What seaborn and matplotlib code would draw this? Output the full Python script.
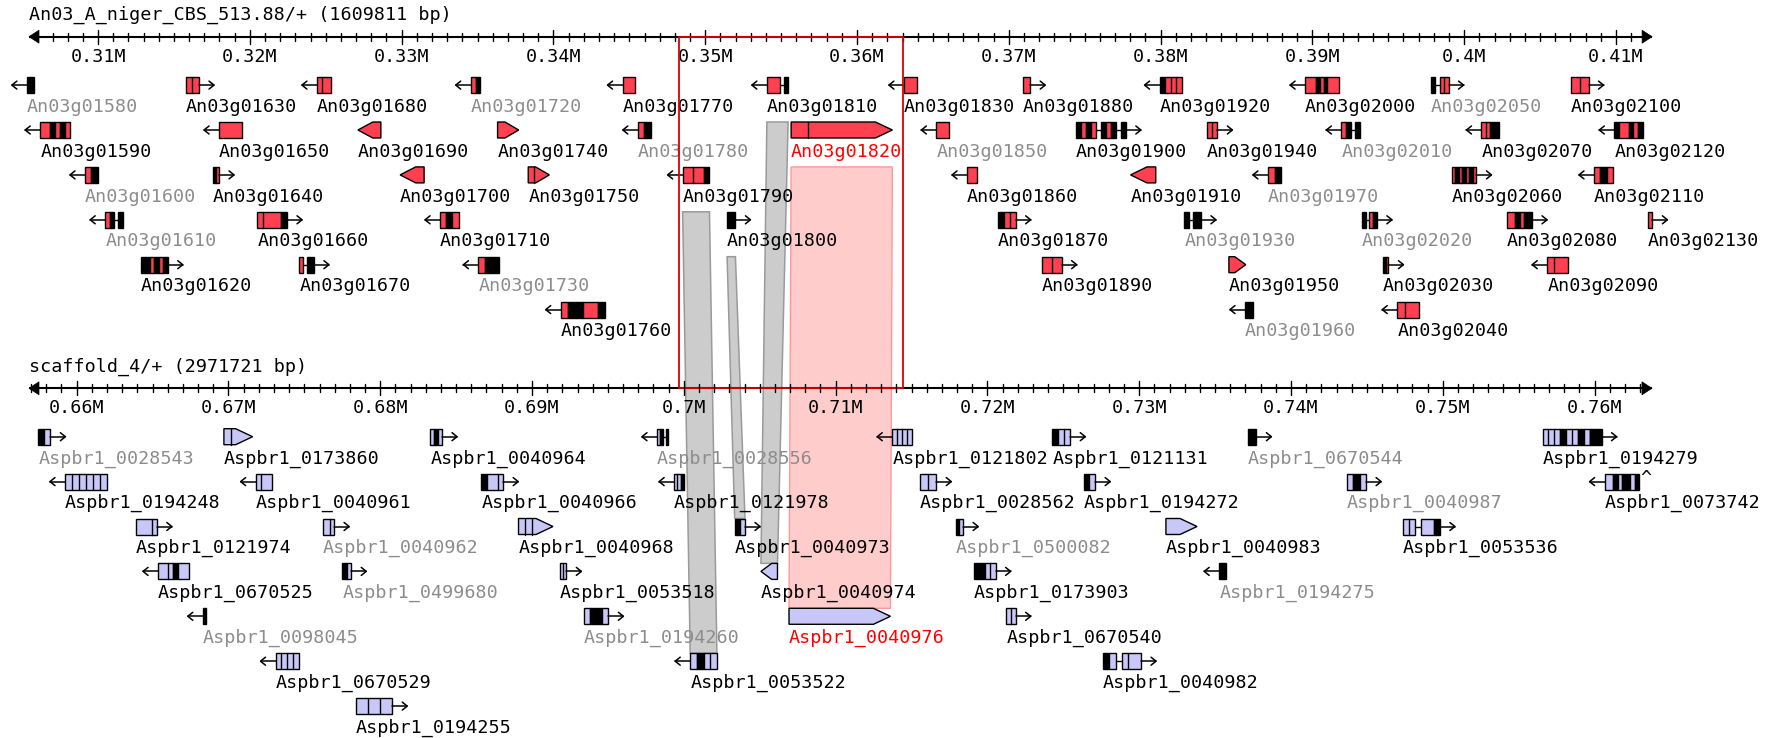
import numpy as np
import matplotlib
matplotlib.use("Agg")
import matplotlib.pyplot as plt
from matplotlib.patches import Polygon, Rectangle
import seaborn as sns

sns.set_theme(style="white")
plt.rcParams["font.family"] = ["DejaVu Sans Mono", "DejaVu Sans"]

# ---------------- data ----------------
top_title = "An03_A_niger_CBS_513.88/+ (1609811 bp)"
top_region = (305450, 412380)
top_names = [
    "An03g01580", "An03g01630", "An03g01680", "An03g01720", "An03g01770", "An03g01810",
    "An03g01830", "An03g01880", "An03g01920", "An03g02000", "An03g02050", "An03g02100",
    "An03g01590", "An03g01650", "An03g01690", "An03g01740", "An03g01780", "An03g01820",
    "An03g01850", "An03g01900", "An03g01940", "An03g02010", "An03g02070", "An03g02120",
    "An03g01600", "An03g01640", "An03g01700", "An03g01750", "An03g01790", "An03g01860",
    "An03g01910", "An03g01970", "An03g02060", "An03g02110",
    "An03g01610", "An03g01660", "An03g01710", "An03g01800", "An03g01870", "An03g01930",
    "An03g02020", "An03g02080", "An03g02130",
    "An03g01620", "An03g01670", "An03g01730", "An03g01890", "An03g01950", "An03g02030",
    "An03g02090",
    "An03g01760", "An03g01960", "An03g02040",
]
top_start = [
    305310, 315770, 324420, 334550, 344550, 354060, 363090, 370910, 379930, 389520, 397790, 407040,
    306190, 317970, 327120, 336320, 345560, 355660, 365230, 374430, 383040, 391910, 401140, 409890,
    309140, 317540, 329900, 338340, 348510, 367250, 378020, 387070, 399170, 408550,
    310470, 320490, 332530, 351440, 369270, 381570, 393250, 402830, 412080,
    312820, 323260, 335060, 372160, 384500, 394640, 405470,
    340480, 385560, 395590,
]
top_end = [
    305760, 316650, 325350, 335190, 345390, 355460, 363970, 371410, 381390, 391730, 398970, 408190,
    308160, 319480, 328630, 337710, 346400, 362330, 366060, 377710, 383740, 393120, 402320, 411780,
    309970, 317970, 331480, 339730, 350280, 367880, 379680, 387950, 400810, 409810,
    311610, 322450, 333750, 351990, 370450, 382660, 394250, 404470, 412400,
    314590, 324220, 336440, 373480, 385610, 395010, 406860,
    343420, 386060, 397030,
]
top_strand = [
    -1, 1, -1, -1, -1, -1, -1, 1, -1, -1, 1, 1,
    -1, -1, -1, 1, -1, 1, -1, 1, 1, -1, -1, -1,
    -1, 1, -1, 1, -1, -1, -1, -1, 1, -1,
    -1, 1, -1, 1, 1, 1, 1, 1, 1,
    1, 1, -1, 1, 1, 1, -1,
    -1, -1, -1,
]
top_row = [0] * 12 + [1] * 12 + [2] * 10 + [3] * 9 + [4] * 7 + [5] * 3
top_exons = [
    "k", "r|r", "r|rr", "rk", "r", "rrr-k", "r", "r", "kr|r|r", "rrrkrkrrr", "k-r|r", "r|r",
    "rrkrkr", "r", "r", "r", "rk", "r|rrrrr", "r", "krkr-krk-k", "r|r", "rk-k", "r|rkk", "krrkrk",
    "rk", "kr", "r", "r|rrr", "rr|rrk", "r", "r", "rk", "rkrkrkr", "rkr",
    "rk-k", "r|rrrk", "rkr", "k", "kr|r", "k-kk", "k-rk", "rrkrkk", "r",
    "kkrkrk", "r-kk", "rkk", "r|r", "r", "kr", "r|rr",
    "rk|krrk", "k", "r|rr",
]
top_shape = [
    "a", "a", "a", "a", "a", "a", "a", "a", "a", "a", "a", "a",
    "a", "a", "p", "p", "a", "p", "a", "a", "a", "a", "a", "a",
    "a", "a", "p", "p", "a", "a", "p", "a", "a", "a",
    "a", "a", "a", "a", "a", "a", "a", "a", "a",
    "a", "a", "a", "a", "p", "a", "a",
    "a", "a", "a",
]
top_label = [
    "g", "k", "k", "g", "k", "k", "k", "k", "k", "k", "g", "k",
    "k", "k", "k", "k", "g", "r", "g", "k", "k", "g", "k", "k",
    "g", "k", "k", "k", "k", "k", "k", "g", "k", "k",
    "g", "k", "k", "k", "k", "g", "g", "k", "k",
    "k", "k", "g", "k", "k", "k", "k",
    "k", "g", "k",
]

bot_title = "scaffold_4/+ (2971721 bp)"
bot_region = (656860, 763780)
bot_names = [
    "Aspbr1_0028543", "Aspbr1_0173860", "Aspbr1_0040964", "Aspbr1_0028556",
    "Aspbr1_0121802", "Aspbr1_0121131", "Aspbr1_0670544", "Aspbr1_0194279",
    "Aspbr1_0194248", "Aspbr1_0040961", "Aspbr1_0040966", "Aspbr1_0121978",
    "Aspbr1_0028562", "Aspbr1_0194272", "Aspbr1_0040987", "Aspbr1_0073742",
    "Aspbr1_0121974", "Aspbr1_0040962", "Aspbr1_0040968", "Aspbr1_0040973",
    "Aspbr1_0500082", "Aspbr1_0040983", "Aspbr1_0053536",
    "Aspbr1_0670525", "Aspbr1_0499680", "Aspbr1_0053518", "Aspbr1_0040974",
    "Aspbr1_0173903", "Aspbr1_0194275",
    "Aspbr1_0098045", "Aspbr1_0194260", "Aspbr1_0040976", "Aspbr1_0670540",
    "Aspbr1_0670529", "Aspbr1_0053522", "Aspbr1_0040982",
    "Aspbr1_0194255",
]
bot_start = [
    657470, 669700, 683310, 698230, 713730, 724270, 737170, 756570,
    659230, 671790, 686660, 699360, 715550, 726340, 743690, 760660,
    663900, 676200, 689110, 703350, 717900, 731760, 747380,
    665360, 677510, 691810, 705080, 719110, 735270,
    668310, 693400, 706930, 721250,
    673100, 700420, 727600,
    678390,
]
bot_end = [
    658270, 671590, 684070, 698990, 715000, 725460, 737720, 760460,
    662010, 672850, 688100, 700000, 716630, 727100, 744950, 762930,
    665280, 676960, 691380, 704030, 718400, 733810, 749810,
    667380, 678090, 692260, 706170, 720540, 735750,
    668510, 695030, 713610, 721860,
    674670, 702180, 730120,
    680790,
]
bot_strand = [
    1, 1, 1, -1, -1, 1, 1, 1,
    -1, -1, 1, -1, 1, 1, 1, -1,
    1, 1, 1, 1, 1, 1, 1,
    -1, 1, 1, -1, 1, -1,
    -1, 1, 1, 1,
    -1, -1, 1,
    1,
]
bot_row = [0] * 8 + [1] * 8 + [2] * 7 + [3] * 6 + [4] * 4 + [5] * 3 + [6]
bot_exons = [
    "kr", "r|rrr", "rkr", "rk-k", "r|r|r|r", "kr|r", "k", "r|r|rkr|rkr|kk",
    "r|r|r|r|r|r", "r|rr", "krr|r", "r|rk", "r|r", "kr", "rkr", "rrkrkkrk",
    "rrr|r", "rr|r", "r|r|rrr", "kr", "kr", "r", "r|r-rrk",
    "rr|rkrr", "kr", "r|r", "r", "kkr|r", "k",
    "k", "rkkr", "r", "r|r",
    "r|r|r|r", "rkr|r", "kr-r|rr",
    "r|r|r",
]
bot_shape = [
    "a", "p", "a", "a", "a", "a", "a", "a",
    "a", "a", "a", "a", "a", "a", "a", "a",
    "a", "a", "p", "a", "a", "p", "a",
    "a", "a", "a", "p", "a", "a",
    "a", "a", "p", "a",
    "a", "a", "a",
    "a",
]
bot_label = [
    "g", "k", "k", "g", "k", "k", "g", "k",
    "k", "k", "k", "k", "k", "k", "g", "k",
    "k", "g", "k", "k", "g", "k", "k",
    "k", "g", "k", "k", "k", "g",
    "g", "g", "r", "k",
    "k", "k", "k",
    "k",
]
bot_flagged = ["Aspbr1_0073742"]

# synteny links (top gene -> bottom gene) and the highlighted pair
links = [("An03g01790", "Aspbr1_0053522"),
         ("An03g01800", "Aspbr1_0040973"),
         ("An03g01810", "Aspbr1_0040974")]
highlight = ("An03g01820", "Aspbr1_0040976")
frame_region = (348280, 363030)

# ---------------- layout / style ----------------
W, H = 1776, 738
BP_PX = 65.88          # bp per pixel
TOP_AXIS_Y = 36.7
BOT_AXIS_Y = 388.3
ROW0 = 48.4
ROW_STEP = 44.9
LABEL_DY = 21.7
BOX_H = 16
FS = 13.2
RED = "#FF4050"
LAV = "#C8C8F8"
LABEL_COLORS = {"k": "black", "g": "#8C8C8C", "r": "#FF0000"}


def row_y(axis_y, r):
    return axis_y + ROW0 + ROW_STEP * r


def parse(pattern):
    cells, dividers, n = [], [], 0
    for c in pattern:
        if c == "|":
            dividers.append(n)
            continue
        if cells and cells[-1][0] == c:
            cells[-1][2] += 1
        else:
            cells.append([c, n, 1])
        n += 1
    return cells, dividers, n


def draw_axis(ax, region, y, title):
    s, e = region
    ax.plot([s, e], [y, y], color="black", lw=1.5, solid_capstyle="butt", zorder=3)
    head = 10 * BP_PX
    ax.add_patch(Polygon([[s, y], [s + head, y - 6.5], [s + head, y + 6.5]],
                         closed=True, fc="black", ec="black", lw=0.5, zorder=3))
    ax.add_patch(Polygon([[e, y], [e - head, y - 6.5], [e - head, y + 6.5]],
                         closed=True, fc="black", ec="black", lw=0.5, zorder=3))
    for t in np.arange(np.ceil(s / 1000) * 1000, e - head, 1000):
        if int(t) % 10000 == 0:
            ax.plot([t, t], [y - 7, y + 7], color="black", lw=1.0, zorder=4)
            ax.text(t, y + 20, f"{t / 1e6:g}M", ha="center", va="center",
                    fontsize=FS, color="black")
        else:
            ax.plot([t, t], [y - 4, y + 4], color="black", lw=1.0, zorder=4)
    ax.text(s, y - 21.7, title, ha="left", va="center", fontsize=FS, color="black")


def draw_gene(ax, name, start, end, strand, y, pattern, shape, fill, label):
    h = BOX_H / 2
    cells, dividers, n = parse(pattern)
    w = (end - start) / n
    if shape == "p":
        pt = min(17 * BP_PX, 0.65 * (end - start))
        if strand > 0:
            verts = [(start, y - h), (end - pt, y - h), (end, y), (end - pt, y + h), (start, y + h)]
        else:
            verts = [(end, y - h), (start + pt, y - h), (start, y), (start + pt, y + h), (end, y + h)]
        ax.add_patch(Polygon(verts, closed=True, fc=fill, ec="black", lw=1.0, zorder=4))
    else:
        for c, i0, k in cells:
            x0 = start + i0 * w
            x1 = x0 + k * w
            if c == "-":
                ax.plot([x0, x1], [y, y], color="black", lw=1.0, zorder=4)
            else:
                ax.add_patch(Rectangle((x0, y - h), x1 - x0, 2 * h,
                                       fc=fill if c == "r" else "black",
                                       ec="black", lw=1.0, zorder=4))
        L = 15 * BP_PX
        x0, x1 = (end, end + L) if strand > 0 else (start, start - L)
        ax.plot([x0, x1], [y, y], color="black", lw=1.1, zorder=4)
        hx = x1 - strand * 5 * BP_PX
        ax.plot([hx, x1, hx], [y - 4, y, y + 4], color="black", lw=1.1, zorder=4)
    for d in dividers:
        xd = start + d * w
        ax.plot([xd, xd], [y - h, y + h], color="black", lw=1.0, zorder=5)
    ax.text(start, y + LABEL_DY, name, ha="left", va="center", fontsize=FS,
            color=LABEL_COLORS[label], zorder=6)


fig = plt.figure(figsize=(W / 100, H / 100), dpi=100)
ax_top = fig.add_axes([0, 0, 1, 1])
ax_bot = fig.add_axes([0, 0, 1, 1])
for ax, region in ((ax_top, top_region), (ax_bot, bot_region)):
    ax.set_xlim(region[0] - 29 * BP_PX, region[0] + (W - 29) * BP_PX)
    ax.set_ylim(H, 0)
    ax.set_autoscale_on(False)
    ax.set_facecolor("none")
    ax.axis("off")

draw_axis(ax_top, top_region, TOP_AXIS_Y, top_title)
draw_axis(ax_bot, bot_region, BOT_AXIS_Y, bot_title)

for i, name in enumerate(top_names):
    draw_gene(ax_top, name, top_start[i], top_end[i], top_strand[i],
              row_y(TOP_AXIS_Y, top_row[i]), top_exons[i], top_shape[i], RED, top_label[i])

for i, name in enumerate(bot_names):
    y = row_y(BOT_AXIS_Y, bot_row[i])
    draw_gene(ax_bot, name, bot_start[i], bot_end[i], bot_strand[i],
              y, bot_exons[i], bot_shape[i], LAV, bot_label[i])
    if name in bot_flagged:
        ax_bot.text(bot_end[i] + 1 * BP_PX, y - 4, "^", ha="left", va="center",
                    fontsize=FS, color="black")


def bot_to_top_x(x, y):
    disp = ax_bot.transData.transform((x, y))
    return ax_top.transData.inverted().transform(disp)[0]


def top_to_bot_x(x, y):
    disp = ax_top.transData.transform((x, y))
    return ax_bot.transData.inverted().transform(disp)[0]


def link_poly(tname, bname):
    i = top_names.index(tname)
    j = bot_names.index(bname)
    y0 = row_y(TOP_AXIS_Y, top_row[i] + 1) - BOX_H / 2
    y1 = row_y(BOT_AXIS_Y, bot_row[j]) - BOX_H / 2
    return [(top_start[i], y0), (top_end[i], y0),
            (bot_to_top_x(bot_end[j], y1), y1), (bot_to_top_x(bot_start[j], y1), y1)]


for tname, bname in links:
    ax_top.add_patch(Polygon(link_poly(tname, bname), closed=True, fc="#CCCCCC",
                             ec="#9A9A9A", lw=1.1, zorder=1))
ax_top.add_patch(Polygon(link_poly(*highlight), closed=True, fc="#FFCCCC",
                         ec="#FF9999", lw=1.0, zorder=1))

# red frame around the selected region (drawn over both axis lines)
fx0 = top_to_bot_x(frame_region[0], TOP_AXIS_Y)
fx1 = top_to_bot_x(frame_region[1], TOP_AXIS_Y)
ax_bot.add_patch(Rectangle((fx0, TOP_AXIS_Y), fx1 - fx0, BOT_AXIS_Y - TOP_AXIS_Y,
                           fill=False, ec="#DD0000", lw=1.3, zorder=3.5))

fig.savefig("out.png", dpi=100, facecolor="white")
